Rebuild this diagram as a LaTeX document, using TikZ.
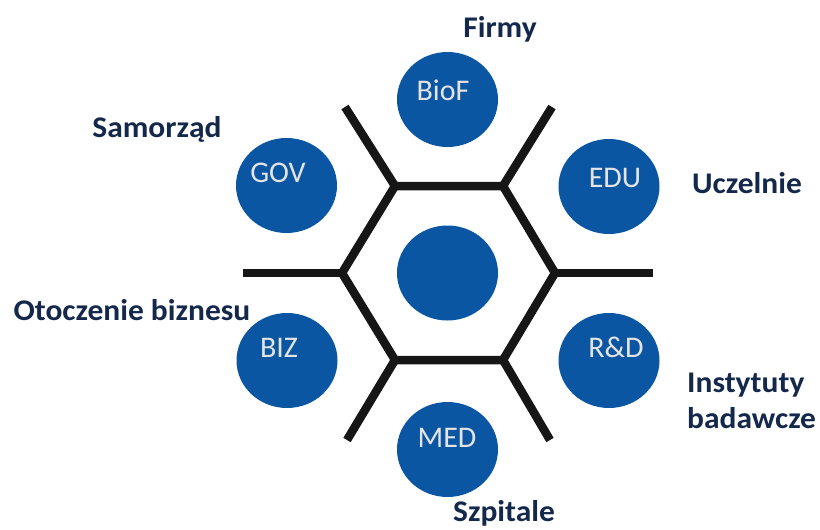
\documentclass[tikz,border=0pt]{standalone}
\usepackage{fontspec}
\setmainfont{Carlito}
\usetikzlibrary{shapes.geometric}
\definecolor{dotblue}{HTML}{0B56A3}
\definecolor{navy}{HTML}{14284B}
\definecolor{dottext}{HTML}{E4E4E4}
\definecolor{hexline}{HTML}{161616}
\newcommand{\hstr}[1]{\scalebox{1.05}[1]{#1}}
\begin{document}
\begin{tikzpicture}[x=1pt,y=-1pt,
  dot/.style={ellipse,fill=dotblue,draw=none,minimum width=101pt,minimum height=95pt,inner sep=0pt},
  dotlbl/.style={anchor=base,text=dottext,font=\fontsize{30}{36}\selectfont,inner sep=0pt},
  grp/.style={anchor=base,text=navy,font=\fontsize{30}{36}\selectfont\bfseries,inner sep=0pt},
  hex/.style={draw=hexline,line width=8.5pt,line join=miter,line cap=butt}]
\useasboundingbox (0,0) rectangle (820,530);
% hexagon corners
\coordinate (h1) at (395,186);
\coordinate (h2) at (503,186);
\coordinate (h3) at (555,273);
\coordinate (h4) at (503,360);
\coordinate (h5) at (395,360);
\coordinate (h6) at (342,273);
% spoke ends
\coordinate (s1) at (345,107);
\coordinate (s2) at (552,107);
\coordinate (s3) at (653,273);
\coordinate (s4) at (550,440);
\coordinate (s5) at (347,440);
\coordinate (s6) at (243,273);
\draw[hex] (h1) -- (h2) -- (h3) -- (h4) -- (h5) -- (h6) -- cycle;
\draw[hex] (h1) -- (s1);
\draw[hex] (h2) -- (s2);
\draw[hex] (h3) -- (s3);
\draw[hex] (h4) -- (s4);
\draw[hex] (h5) -- (s5);
\draw[hex] (h6) -- (s6);
% circles
\node[dot] (center) at (447.5,273) {};
\node[dot] (biof) at (447.5,99.5) {};
\node[dot] (gov) at (286.5,185.5) {};
\node[dot] (edu) at (609,186.5) {};
\node[dot] (biz) at (287,360.5) {};
\node[dot] (rd) at (609,360.5) {};
\node[dot] (med) at (447.5,449.5) {};
% circle labels
\node[dotlbl] (tbiof) at (443,100) {BioF};
\node[dotlbl] (tgov) at (278,182) {GOV};
\node[dotlbl] (tedu) at (615,187) {EDU};
\node[dotlbl] (tbiz) at (279,357) {BIZ};
\node[dotlbl] (trd) at (616,357) {R\&D};
\node[dotlbl] (tmed) at (447,447) {MED};
% group labels
\node[grp] (firmy) at (500,37) {\hstr{Firmy}};
\node[grp] (samo) at (157,137) {\hstr{Samorząd}};
\node[grp] (ucz) at (747,193) {\hstr{Uczelnie}};
\node[grp] (oto) at (132,320) {\hstr{Otoczenie biznesu}};
\node[grp,anchor=base west] (inst) at (687,392) {\hstr{Instytuty}};
\node[grp,anchor=base west] (bad) at (687,428) {\hstr{badawcze}};
\node[grp] (szp) at (504,521) {\hstr{Szpitale}};
\end{tikzpicture}
\end{document}
